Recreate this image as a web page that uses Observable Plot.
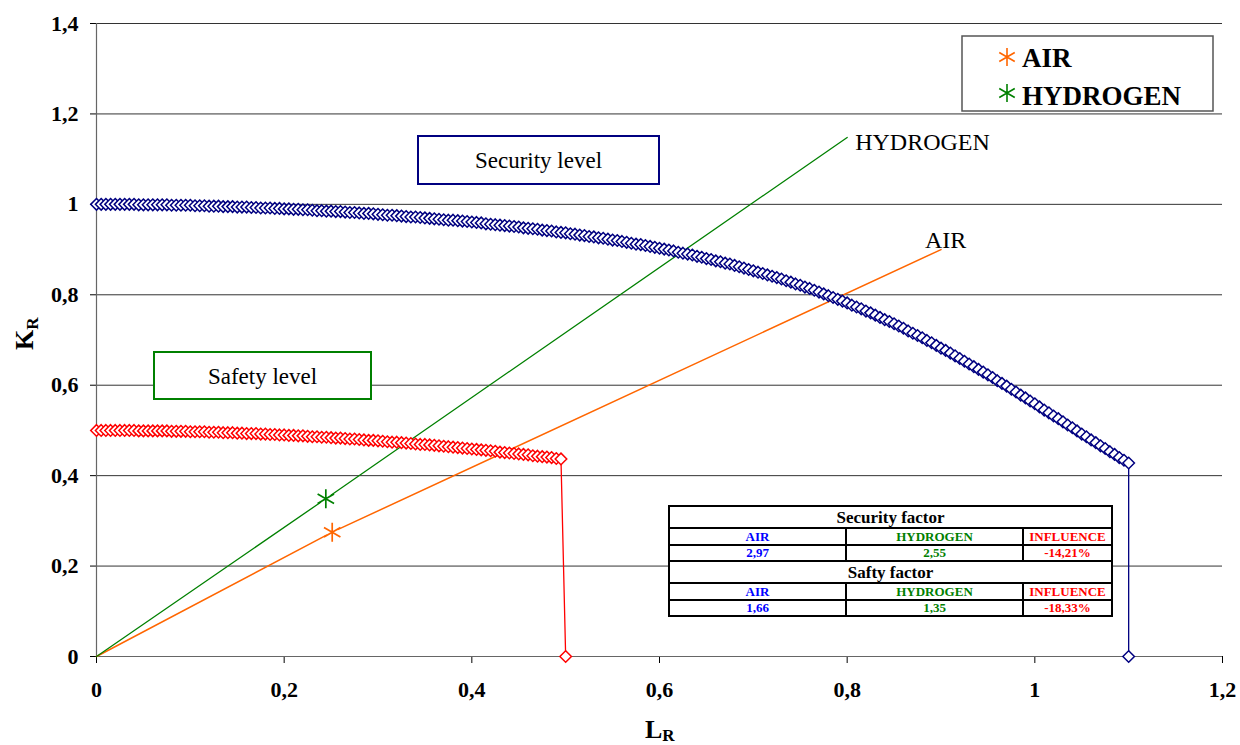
<!DOCTYPE html>
<html>
<head>
<meta charset="utf-8">
<script src="https://cdn.jsdelivr.net/npm/d3@7"></script>
<script src="https://cdn.jsdelivr.net/npm/@observablehq/plot@0.6"></script>
<style>
  body { margin: 0; background: #fff; }
  #wrap { position: relative; width: 1240px; height: 745px; font-family: "Liberation Serif", "Times New Roman", serif; }
  #tbl { position: absolute; left: 668px; top: 505px; width: 443px; border-collapse: collapse; background: #fff;
         font-family: "Liberation Serif", "Times New Roman", serif; font-weight: bold; table-layout: fixed; }
  #tbl td { border: 2px solid #000; padding: 0; text-align: center; line-height: 1; overflow: hidden; white-space: nowrap; }
  #tbl td.title { height: 20px; font-size: 17px; color: #000; }
  #tbl td.cell { height: 14.5px; font-size: 13px; }
</style>
</head>
<body>
<div id="wrap"></div>
<script>
// ---------------- data ----------------
const lrTicks = [0, 0.2, 0.4, 0.6, 0.8, 1, 1.2];
const krTicks = [0, 0.2, 0.4, 0.6, 0.8, 1, 1.2, 1.4];

// sampling step of the L_R values of both assessment curves
const lrStep = 0.005;

// Security level curve K_R values (L_R = 0 ... 1.1)
const securityK = [
  1.000,1.000,1.000,1.000,1.000,1.000,1.000,1.000,1.000,0.999,0.999,0.999,0.999,0.999,0.999,0.999,0.998,0.998,0.998,0.998,
  0.998,0.997,0.997,0.997,0.996,0.996,0.996,0.995,0.995,0.995,0.994,0.994,0.994,0.993,0.993,0.992,0.992,0.992,0.991,0.991,
  0.990,0.990,0.989,0.989,0.988,0.988,0.987,0.986,0.986,0.985,0.985,0.984,0.984,0.983,0.982,0.982,0.981,0.980,0.980,0.979,
  0.978,0.977,0.976,0.976,0.975,0.974,0.973,0.972,0.972,0.971,0.970,0.969,0.968,0.967,0.966,0.965,0.965,0.964,0.963,0.962,
  0.961,0.960,0.959,0.957,0.956,0.955,0.954,0.953,0.952,0.951,0.950,0.948,0.947,0.946,0.945,0.943,0.942,0.941,0.939,0.938,
  0.937,0.935,0.934,0.932,0.931,0.929,0.928,0.926,0.925,0.923,0.921,0.920,0.918,0.916,0.914,0.912,0.911,0.909,0.907,0.905,
  0.903,0.901,0.899,0.897,0.894,0.892,0.890,0.888,0.885,0.883,0.880,0.878,0.875,0.873,0.870,0.868,0.865,0.862,0.859,0.856,
  0.853,0.850,0.847,0.844,0.841,0.838,0.835,0.831,0.828,0.824,0.821,0.817,0.814,0.810,0.806,0.802,0.798,0.794,0.790,0.786,
  0.782,0.777,0.773,0.769,0.764,0.760,0.755,0.750,0.745,0.741,0.736,0.731,0.726,0.720,0.715,0.710,0.705,0.699,0.694,0.688,
  0.682,0.677,0.671,0.665,0.659,0.653,0.647,0.641,0.635,0.629,0.623,0.617,0.610,0.604,0.598,0.591,0.585,0.578,0.572,0.565,
  0.559,0.552,0.545,0.539,0.532,0.526,0.519,0.512,0.506,0.499,0.492,0.486,0.479,0.473,0.466,0.460,0.453,0.447,0.440,0.434,
  0.428
];
const securityCutoff = [1.1, 0];   // vertical drop point (L_R, K_R)

// Safety level curve K_R values (L_R = 0 ... 0.495)
const safetyK = [
  0.500,0.500,0.500,0.500,0.500,0.500,0.500,0.500,0.500,0.499,0.499,0.499,0.499,0.499,0.499,0.499,0.498,0.498,0.498,0.498,
  0.497,0.497,0.497,0.497,0.496,0.496,0.496,0.495,0.495,0.495,0.494,0.494,0.493,0.493,0.493,0.492,0.492,0.491,0.491,0.490,
  0.490,0.489,0.489,0.488,0.488,0.487,0.486,0.486,0.485,0.485,0.484,0.483,0.483,0.482,0.481,0.481,0.480,0.479,0.478,0.478,
  0.477,0.476,0.475,0.474,0.474,0.473,0.472,0.471,0.470,0.469,0.469,0.468,0.467,0.466,0.465,0.464,0.463,0.462,0.461,0.460,
  0.459,0.458,0.457,0.456,0.455,0.454,0.452,0.451,0.450,0.449,0.448,0.447,0.446,0.444,0.443,0.442,0.441,0.440,0.438,0.437
];
const safetyCutoff = [0.5, 0];

// Loading lines (origin, assessment point, end of line)
const airL = [0, 0.2512, 0.9];
const airK = [0, 0.2750, 0.9];
const hydrogenL = [0, 0.2444, 0.8];
const hydrogenK = [0, 0.3490, 1.148];

// Table
const tableHeads = ["AIR", "HYDROGEN", "INFLUENCE"];
const tableColors = ["#0000ff", "#008000", "#ff0000"];
const securityFactor = ["2,97", "2,55", "-14,21%"];
const saftyFactor = ["1,66", "1,35", "-18,33%"];

// ---------------- build ----------------
const security = securityK.map((k, i) => ({L: +(i * lrStep).toFixed(3), K: k}));
security.push({L: securityCutoff[0], K: securityCutoff[1]});
const safety = safetyK.map((k, i) => ({L: +(i * lrStep).toFixed(3), K: k}));
safety.push({L: safetyCutoff[0], K: safetyCutoff[1]});
const air = airL.map((l, i) => ({L: l, K: airK[i]}));
const hydrogen = hydrogenL.map((l, i) => ({L: l, K: hydrogenK[i]}));

const fmt = d => String(d).replace(".", ",");
const serif = "'Liberation Serif','Times New Roman',serif";

const chart = Plot.plot({
  width: 1240,
  height: 745,
  marginLeft: 96,
  marginRight: 18,
  marginTop: 23,
  marginBottom: 89,
  style: {fontFamily: serif, fontSize: "22px", fontWeight: "bold", background: "white", color: "black", overflow: "visible"},
  x: {domain: [0, 1.2], ticks: lrTicks, tickFormat: fmt, tickSize: 7, tickPadding: 18, label: null},
  y: {domain: [0, 1.4], ticks: krTicks, tickFormat: fmt, tickSize: 6, tickPadding: 12, label: null},
  marks: [
    Plot.ruleY(krTicks.slice(1), {stroke: "#333", strokeWidth: 1}),
    Plot.ruleX([0], {stroke: "#666", strokeWidth: 1.2}),
    Plot.ruleY([0], {stroke: "#666", strokeWidth: 1.2}),
    // loading lines
    Plot.line(air, {x: "L", y: "K", stroke: "#ff6600", strokeWidth: 1.5}),
    Plot.line(hydrogen, {x: "L", y: "K", stroke: "#008000", strokeWidth: 1.3}),
    Plot.dot([air[1], hydrogen[1]], {x: "L", y: "K", r: 6, fill: "white", stroke: "none"}),
    Plot.dot([air[1]], {x: "L", y: "K", symbol: "asterisk", r: 9, stroke: "#ff6600", strokeWidth: 1.7}),
    Plot.dot([hydrogen[1]], {x: "L", y: "K", symbol: "asterisk", r: 9, stroke: "#008000", strokeWidth: 1.7}),
    Plot.text([hydrogen[2]], {x: "L", y: "K", text: () => "HYDROGEN", textAnchor: "start", dx: 8, dy: 5,
      fontSize: 24, fontWeight: "normal", fill: "#000"}),
    Plot.text([air[2]], {x: "L", y: "K", text: () => "AIR", textAnchor: "start", dx: -16, dy: -9,
      fontSize: 24, fontWeight: "normal", fill: "#000"}),
    // assessment curves
    Plot.line(safety, {x: "L", y: "K", stroke: "#ff0000", strokeWidth: 1.3}),
    Plot.dot(safety, {x: "L", y: "K", symbol: "diamond2", r: 5.2, stroke: "#ff0000", fill: "white", strokeWidth: 1.5}),
    Plot.line(security, {x: "L", y: "K", stroke: "#000080", strokeWidth: 1.3}),
    Plot.dot(security, {x: "L", y: "K", symbol: "diamond2", r: 5.2, stroke: "#000080", fill: "white", strokeWidth: 1.5})
  ]
});

const wrap = document.getElementById("wrap");
wrap.appendChild(chart);

// ---------------- annotations ----------------
const svg = d3.select(chart);
const ann = svg.append("g").attr("font-family", serif).attr("text-anchor", "start");

// level boxes
function levelBox(x, y, w, h, color, label) {
  ann.append("rect").attr("x", x).attr("y", y).attr("width", w).attr("height", h)
    .attr("fill", "white").attr("stroke", color).attr("stroke-width", 2);
  ann.append("text").attr("x", x + w / 2).attr("y", y + h / 2 + 8).attr("text-anchor", "middle")
    .attr("font-size", 23).attr("font-weight", "normal").attr("fill", "#000").text(label);
}
levelBox(418, 136, 241, 48, "#000080", "Security level");
levelBox(154, 352, 217, 47, "#008000", "Safety level");

// legend
const lg = ann.append("g");
lg.append("rect").attr("x", 962).attr("y", 36).attr("width", 251).attr("height", 75)
  .attr("fill", "white").attr("stroke", "#555").attr("stroke-width", 1.5);
const legendItems = [
  {label: "AIR", color: "#ff6600", cy: 57, base: 67},
  {label: "HYDROGEN", color: "#008000", cy: 93, base: 105}
];
const star = d3.symbol(d3.symbolAsterisk, Math.PI * 72)();
legendItems.forEach(it => {
  lg.append("path").attr("d", star).attr("transform", `translate(1007,${it.cy})`)
    .attr("fill", "none").attr("stroke", it.color).attr("stroke-width", 1.6);
  lg.append("text").attr("x", 1022).attr("y", it.base).attr("text-anchor", "start")
    .attr("font-size", 27).attr("font-weight", "bold").attr("fill", "#000").text(it.label);
});

// axis titles
const lt = ann.append("text").attr("x", 645).attr("y", 738).attr("text-anchor", "start")
  .attr("font-size", 26).attr("font-weight", "bold").attr("fill", "#000");
lt.append("tspan").text("L");
lt.append("tspan").attr("font-size", 17).attr("dy", 3).text("R");
const kt = ann.append("text").attr("transform", "translate(33,350) rotate(-90)").attr("text-anchor", "start")
  .attr("font-size", 26).attr("font-weight", "bold").attr("fill", "#000");
kt.append("tspan").text("K");
kt.append("tspan").attr("font-size", 17).attr("dy", 5).text("R");

// table
const tbl = document.createElement("table");
tbl.id = "tbl";
const colgroup = document.createElement("colgroup");
[177, 177, 89].forEach(w => { const c = document.createElement("col"); c.style.width = w + "px"; colgroup.appendChild(c); });
tbl.appendChild(colgroup);
function titleRow(t) {
  const tr = document.createElement("tr");
  const td = document.createElement("td");
  td.colSpan = 3; td.className = "title"; td.textContent = t;
  tr.appendChild(td); tbl.appendChild(tr);
}
function cellRow(vals) {
  const tr = document.createElement("tr");
  vals.forEach((v, i) => {
    const td = document.createElement("td");
    td.className = "cell"; td.style.color = tableColors[i]; td.textContent = v;
    tr.appendChild(td);
  });
  tbl.appendChild(tr);
}
titleRow("Security factor");
cellRow(tableHeads);
cellRow(securityFactor);
titleRow("Safty factor");
cellRow(tableHeads);
cellRow(saftyFactor);
wrap.appendChild(tbl);
</script>
</body>
</html>
